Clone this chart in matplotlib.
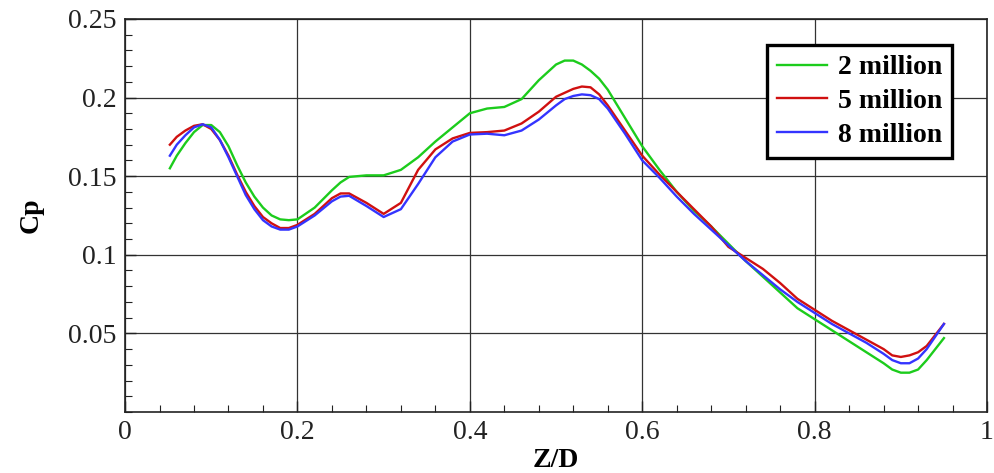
import matplotlib
matplotlib.use("Agg")
import matplotlib.pyplot as plt
from matplotlib.ticker import MultipleLocator

plt.rcParams['font.family'] = ['Liberation Serif', 'DejaVu Serif']

z = [0.052, 0.06, 0.07, 0.08, 0.09, 0.10, 0.11, 0.12, 0.13, 0.14, 0.15, 0.16, 0.17, 0.18, 0.19, 0.20,
     0.22, 0.24, 0.25, 0.26, 0.28, 0.30, 0.32, 0.34, 0.36, 0.38, 0.40, 0.42, 0.44, 0.46, 0.48, 0.50,
     0.51, 0.52, 0.53, 0.54, 0.55, 0.56, 0.58, 0.60, 0.62, 0.64, 0.66, 0.68, 0.70, 0.72, 0.74, 0.76,
     0.78, 0.80, 0.82, 0.84, 0.86, 0.88, 0.89, 0.90, 0.91, 0.92, 0.93, 0.94, 0.95]

cp_2m = [0.155, 0.163, 0.171, 0.178, 0.1825, 0.1825, 0.178, 0.169, 0.157, 0.146, 0.137, 0.130, 0.125, 0.1225, 0.122, 0.1225,
         0.130, 0.141, 0.146, 0.1495, 0.1505, 0.1505, 0.154, 0.162, 0.172, 0.181, 0.190, 0.193, 0.194, 0.199, 0.211, 0.221,
         0.2235, 0.2235, 0.221, 0.217, 0.212, 0.205, 0.187, 0.169, 0.154, 0.140, 0.128, 0.118, 0.107, 0.096, 0.086, 0.076,
         0.066, 0.059, 0.052, 0.045, 0.038, 0.031, 0.027, 0.025, 0.025, 0.027, 0.033, 0.040, 0.047]

cp_5m = [0.170, 0.175, 0.179, 0.182, 0.183, 0.180, 0.173, 0.163, 0.151, 0.140, 0.131, 0.124, 0.120, 0.117, 0.117, 0.119,
         0.126, 0.136, 0.139, 0.139, 0.133, 0.126, 0.133, 0.154, 0.167, 0.174, 0.1775, 0.178, 0.179, 0.1835, 0.191, 0.2005,
         0.203, 0.2055, 0.207, 0.2065, 0.202, 0.195, 0.179, 0.163, 0.151, 0.140, 0.129, 0.118, 0.105, 0.098, 0.091, 0.082,
         0.072, 0.065, 0.058, 0.052, 0.046, 0.040, 0.036, 0.035, 0.036, 0.038, 0.042, 0.049, 0.056]

cp_8m = [0.163, 0.170, 0.176, 0.181, 0.183, 0.181, 0.173, 0.162, 0.150, 0.138, 0.129, 0.122, 0.118, 0.116, 0.116, 0.118,
         0.125, 0.134, 0.137, 0.1375, 0.131, 0.124, 0.129, 0.145, 0.162, 0.172, 0.1765, 0.177, 0.176, 0.179, 0.186, 0.195,
         0.199, 0.201, 0.202, 0.2015, 0.199, 0.193, 0.177, 0.160, 0.149, 0.137, 0.126, 0.116, 0.106, 0.096, 0.087, 0.078,
         0.070, 0.063, 0.056, 0.050, 0.044, 0.037, 0.033, 0.031, 0.031, 0.034, 0.040, 0.048, 0.056]

labels = ["2 million", "5 million", "8 million"]
colors = ["#1ccc1c", "#d01010", "#3434ff"]

xticks = [0, 0.2, 0.4, 0.6, 0.8, 1.0]
xticklabels = ["0", "0.2", "0.4", "0.6", "0.8", "1"]
yticks = [0.05, 0.10, 0.15, 0.20, 0.25]
yticklabels = ["0.05", "0.1", "0.15", "0.2", "0.25"]

fig = plt.figure(figsize=(9.94, 4.73), dpi=100)
ax = fig.add_axes([0.1258, 0.129, 0.8672, 0.831])

for vals, lab, col in zip([cp_2m, cp_5m, cp_8m], labels, colors):
    ax.plot(z, vals, color=col, lw=1.7, label=lab)

ax.set_xlim(0, 1)
ax.set_ylim(0, 0.25)
ax.set_xticks(xticks)
ax.set_xticklabels(xticklabels)
ax.set_yticks(yticks)
ax.set_yticklabels(yticklabels)
ax.xaxis.set_minor_locator(MultipleLocator(0.04))
ax.yaxis.set_minor_locator(MultipleLocator(0.01))
ax.tick_params(which='both', direction='in', top=False, right=False, labelsize=20, colors='#222222')
ax.tick_params(which='major', length=8, width=1.0, pad=6)
ax.tick_params(which='minor', length=5, width=0.8)
for lab in ax.get_xticklabels() + ax.get_yticklabels():
    lab.set_color('#222222')
ax.grid(True, which='major', color='#333333', lw=0.9)
for s in ax.spines.values():
    s.set_linewidth(1.2)
    s.set_color('#222222')

ax.set_xlabel("Z/D", fontsize=20, fontweight='bold', labelpad=2)
ax.set_ylabel("Cp", fontsize=20, fontweight='bold', labelpad=18)

leg = ax.legend(loc='upper right', bbox_to_anchor=(0.959, 0.933),
                prop={'weight': 'bold', 'size': 20}, frameon=True, fancybox=False,
                handlelength=1.8, handletextpad=0.4, borderpad=0.35, labelspacing=0.3,
                borderaxespad=0)
leg.get_frame().set_edgecolor('black')
leg.get_frame().set_linewidth(2.4)
leg.get_frame().set_facecolor('white')
leg.get_frame().set_alpha(1)

fig.savefig("out.png", dpi=100)
